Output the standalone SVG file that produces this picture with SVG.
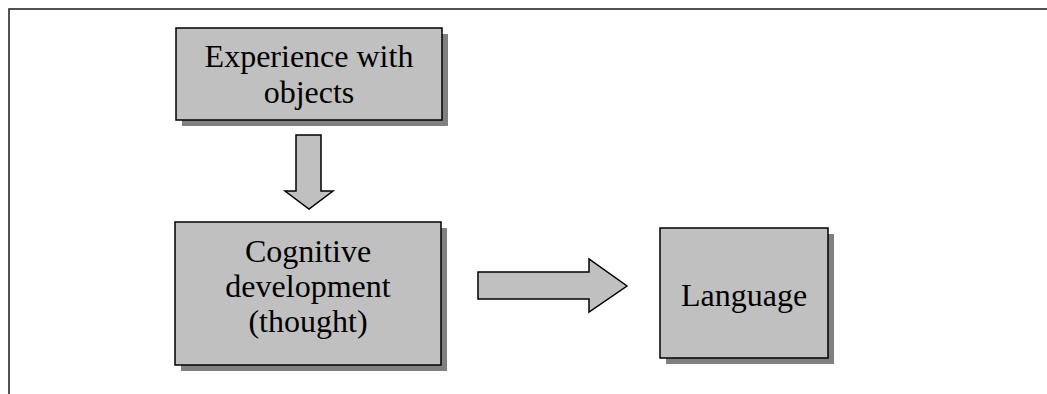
<svg xmlns="http://www.w3.org/2000/svg" width="1047" height="394" viewBox="0 0 1047 394">
<style>
.box{fill:#c0c0c0;stroke:#000;stroke-width:1.5}
.shadow{fill:#808080}
.arrow{fill:#c0c0c0;stroke:#000;stroke-width:1.5;stroke-linejoin:miter}
.t{font-family:"Liberation Serif","Times New Roman",serif;font-size:32px;fill:#000;text-anchor:middle}
.frame{fill:none;stroke:#1a1a1a;stroke-width:1.5}
</style>
<rect width="1047" height="394" fill="#fff"/>
<path class="frame" d="M9,394 V9 H1047"/>
<g id="node-experience">
<rect class="shadow" x="182" y="34" width="266" height="92"/>
<rect class="box" x="176" y="28" width="266" height="92"/>
<text class="t" x="309" y="67">Experience with</text>
<text class="t" x="309" y="103">objects</text>
</g>
<g id="node-cognitive">
<rect class="shadow" x="181" y="228" width="266" height="143"/>
<rect class="box" x="175" y="222" width="266" height="143"/>
<text class="t" x="308" y="262">Cognitive</text>
<text class="t" x="308" y="297">development</text>
<text class="t" x="308" y="332">(thought)</text>
</g>
<g id="node-language">
<rect class="shadow" x="666" y="234" width="168" height="130"/>
<rect class="box" x="660" y="228" width="168" height="130"/>
<text class="t" x="744" y="306">Language</text>
</g>
<g id="connectors">
<polygon class="arrow" points="296,135 321,135 321,191 333,191 309,209 285,191 296,191"/>
<polygon class="arrow" points="478,272 589,272 589,259 627,286 589,312 589,299 478,299"/>
</g>
</svg>
